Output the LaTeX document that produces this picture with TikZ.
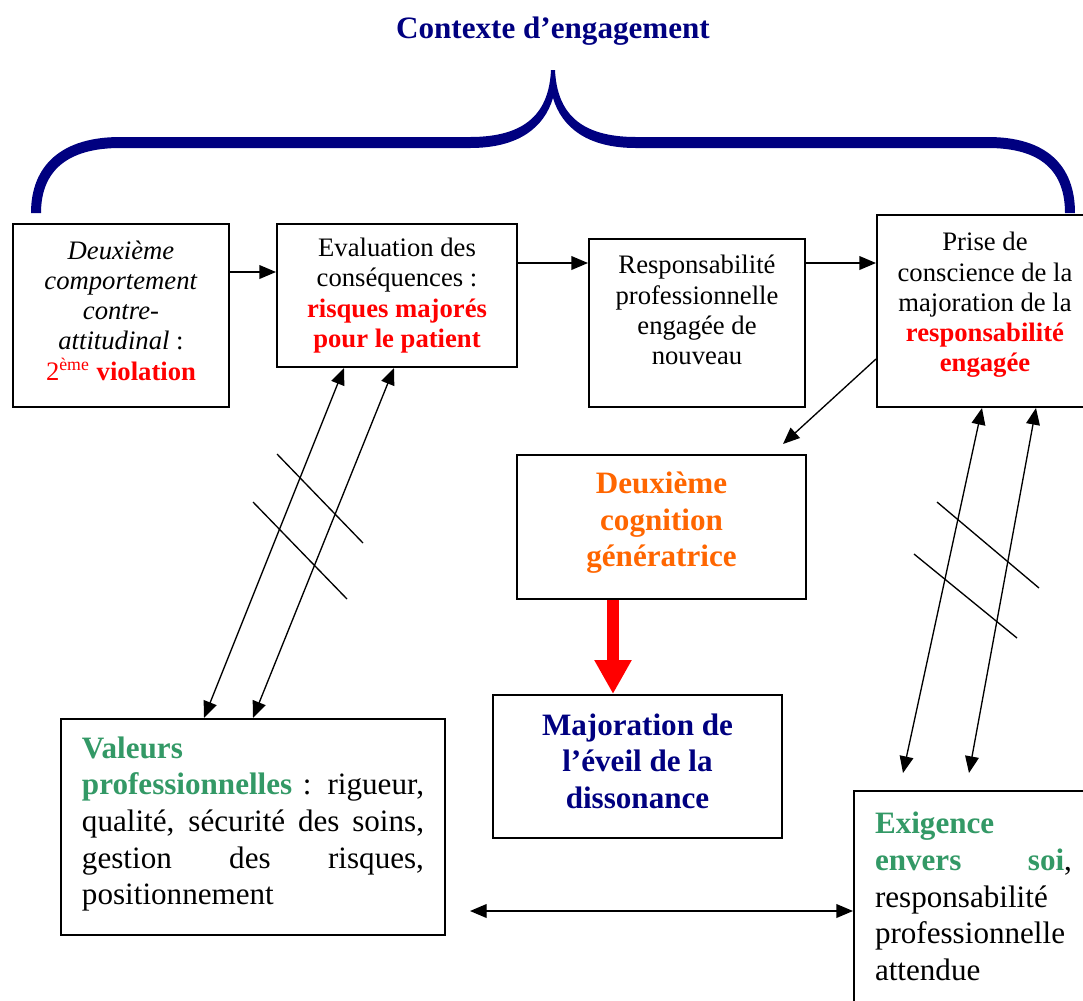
\documentclass[tikz,border=0pt]{standalone}
\usepackage{fontspec}
\setmainfont{Liberation Serif}
\usetikzlibrary{arrows.meta, calc, positioning}

\definecolor{marine}{RGB}{0,0,128}
\definecolor{vertpro}{RGB}{51,153,102}
\definecolor{orangecog}{RGB}{255,102,0}
\newcommand{\dpx}[1]{\rule[-#1]{0pt}{#1}}
\newcommand{\petit}{\fontsize{12}{13.6}\selectfont}
\newcommand{\grand}{\fontsize{14}{16.5}\selectfont}

\begin{document}
\begin{tikzpicture}[x=0.45pt, y=-0.45pt,
  boite/.style={draw, line width=0.9pt, fill=white, align=center, inner sep=0pt},
  fleche/.style={-{Triangle[length=7.5pt,width=6.2pt]}, line width=0.6pt},
  fleche2/.style={{Triangle[length=7.5pt,width=6.2pt]}-{Triangle[length=7.5pt,width=6.2pt]}, line width=0.6pt},
  trait/.style={line width=0.6pt},
  rouge/.style={red, line width=5pt, -{Triangle[length=15.3pt,width=15.75pt]}}]
\useasboundingbox (0,0) rectangle (1083,1000);

% Accolade du contexte
\node[anchor=base, font=\fontsize{14}{16.5}\selectfont\bfseries, text=marine] (contexte) at (553,38) {Contexte d’engagement};
\fill[marine] (31,213) .. controls (31,165) and (62,137) .. (120,137) -- (470,137)
  .. controls (527,137) and (549,112) .. (551,70) -- (555,70)
  .. controls (557,112) and (579,137) .. (636,137) -- (988,137)
  .. controls (1046,137) and (1075,165) .. (1075,213) -- (1065,213)
  .. controls (1065,172) and (1042,148) .. (988,148) -- (636,148)
  .. controls (588,148) and (562,128) .. (553,98)
  .. controls (544,128) and (518,148) .. (470,148) -- (120,148)
  .. controls (66,148) and (41,172) .. (41,213) -- cycle;

% Ligne du haut
\node[boite, font=\petit, minimum width=97.2pt, minimum height=82.35pt] (comport) at (121,315.5)
  {\textit{Deuxième}\\\textit{comportement}\\\textit{contre-}\\\textit{attitudinal} :\\\textcolor{red}{2\textsuperscript{ème} \textbf{violation}}\dpx{4.5pt}};
\node[boite, font=\petit, minimum width=108pt, minimum height=64.35pt] (evaluation) at (397,295.5)
  {Evaluation des\\conséquences :\\\textcolor{red}{\textbf{risques majorés}}\\\textcolor{red}{\textbf{pour le patient}}};
\node[boite, font=\petit, minimum width=97.2pt, minimum height=75.6pt] (respons) at (697,323)
  {Responsabilité\\professionnelle\\engagée de\\nouveau\dpx{11.7pt}};
\node[boite, font=\petit, minimum width=97.2pt, minimum height=86.4pt] (prise) at (985,311)
  {Prise de\\conscience de la\\majoration de la\\\textcolor{red}{\textbf{responsabilité}}\\\textcolor{red}{\textbf{engagée}}\dpx{8pt}};

% Centre
\node[boite, font=\grand\bfseries, text=orangecog, minimum width=130.05pt, minimum height=64.8pt] (cognition) at (661.5,527)
  {Deuxième\\cognition\\génératrice\dpx{7pt}};
\node[boite, font=\grand\bfseries, text=marine, minimum width=130.05pt, minimum height=64.35pt] (eveil) at (637.5,766.5)
  {Majoration de\\l’éveil de la\\dissonance\dpx{5pt}};

% Bas
\node[boite, font=\grand, align=justify, text width=153.9pt, inner xsep=9.45pt, minimum height=97.2pt] (valeurs) at (253,827)
  {\textcolor{vertpro}{\textbf{Valeurs}}\\\textcolor{vertpro}{\textbf{professionnelles}} : rigueur,\linebreak
   qualité, sécurité des soins,\linebreak gestion\hfill des\hfill risques,\\positionnement\dpx{5.6pt}};
\node[boite, font=\grand, align=justify, text width=88.65pt, inner xsep=9.45pt, inner ysep=9.5pt, anchor=north west] (exigence) at (853,790)
  {\textcolor{vertpro}{\textbf{Exigence}}\\\textcolor{vertpro}{\textbf{envers}}\hfill\textcolor{vertpro}{\textbf{soi}},\\responsabilité\\professionnelle\\attendue\dpx{40pt}};

% Fleches
\draw[fleche] (comport.east |- 0,272) -- (evaluation.west |- 0,272);
\draw[fleche] (evaluation.east |- 0,263) -- (respons.west |- 0,263);
\draw[fleche] (respons.east |- 0,263) -- (prise.west |- 0,263);
\draw[fleche] (prise.west |- 0,359) -- ($(cognition.north east)+(-24,-10)$);
\draw[rouge] (cognition.south -| 613,0) -- (eveil.north -| 613,0);

\draw[fleche2] ($(evaluation.south west)+(68,0)$) -- ($(valeurs.north west)+(144,0)$);
\draw[fleche2] ($(evaluation.south west)+(118,0)$) -- ($(valeurs.north west)+(193,0)$);
\draw[fleche2] ($(prise.south west)+(106,0)$) -- ($(exigence.north west)+(50,-17)$);
\draw[fleche2] ($(prise.south west)+(160,0)$) -- ($(exigence.north west)+(116,-17)$);
\coordinate (libre) at (470,911);
\draw[fleche2] (libre) -- (exigence.west |- libre);

% Barres de rupture
\draw[trait] (277,454) -- (363,543);
\draw[trait] (253,502) -- (347,599);
\draw[trait] (937,502) -- (1039,588);
\draw[trait] (914,554) -- (1017,638);
\end{tikzpicture}
\end{document}
